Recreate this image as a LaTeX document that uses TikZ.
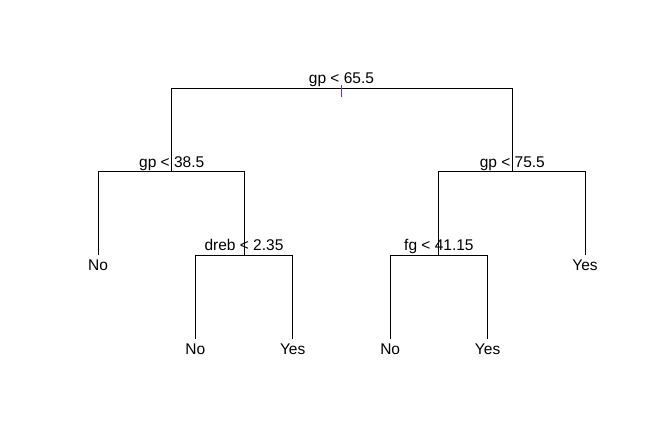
\documentclass[tikz,border=0pt]{standalone}
\usepackage{fontspec}
\setmainfont{Liberation Sans}
\begin{document}
\begin{tikzpicture}[x=1pt,y=-1pt,
  branch/.style={black,line width=0.9pt},
  splitlabel/.style={anchor=base,inner sep=0pt,font=\fontsize{15.5}{18}\selectfont},
  leaflabel/.style={anchor=base,inner sep=0pt,font=\fontsize{15.5}{18}\selectfont},
  rootmark/.style={line width=1.1pt,draw={rgb,255:red,105;green,45;blue,200}}]
\useasboundingbox (0,0) rectangle (645,446);
% split nodes
\coordinate (root) at (341.5,88);
\coordinate (l)    at (171.7,171.5);
\coordinate (r)    at (512.3,171.5);
\coordinate (lr)   at (244,255);
\coordinate (rl)   at (438.9,255);
% leaves (ends of the terminal branches)
\coordinate (ll)   at (98,255);
\coordinate (rr)   at (585,255);
\coordinate (lrl)  at (195.4,338.5);
\coordinate (lrr)  at (292.7,338.5);
\coordinate (rll)  at (390.2,338.5);
\coordinate (rlr)  at (487.6,338.5);
% branches
\draw[branch] (root) -| (l);
\draw[branch] (root) -| (r);
\draw[branch] (l) -| (ll);
\draw[branch] (l) -| (lr);
\draw[branch] (r) -| (rl);
\draw[branch] (r) -| (rr);
\draw[branch] (lr) -| (lrl);
\draw[branch] (lr) -| (lrr);
\draw[branch] (rl) -| (rll);
\draw[branch] (rl) -| (rlr);
\draw[rootmark] ([shift={(0,-3)}]root) -- ++(0,12);
% split labels
\node[splitlabel] (troot) at ([shift={(0,-4)}]root) {gp < 65.5};
\node[splitlabel] (tl)    at ([shift={(0,-4)}]l)    {gp < 38.5};
\node[splitlabel] (tr)    at ([shift={(0,-4)}]r)    {gp < 75.5};
\node[splitlabel] (tlr)   at ([shift={(0,-4)}]lr)   {dreb < 2.35};
\node[splitlabel] (trl)   at ([shift={(0,-4)}]rl)   {fg < 41.15};
% leaf labels
\node[leaflabel] (tll)  at ([shift={(0,15.5)}]ll)  {No};
\node[leaflabel] (trr)  at ([shift={(0,15.5)}]rr)  {Yes};
\node[leaflabel] (tlrl) at ([shift={(0,15.5)}]lrl) {No};
\node[leaflabel] (tlrr) at ([shift={(0,15.5)}]lrr) {Yes};
\node[leaflabel] (trll) at ([shift={(0,15.5)}]rll) {No};
\node[leaflabel] (trlr) at ([shift={(0,15.5)}]rlr) {Yes};
\end{tikzpicture}
\end{document}
